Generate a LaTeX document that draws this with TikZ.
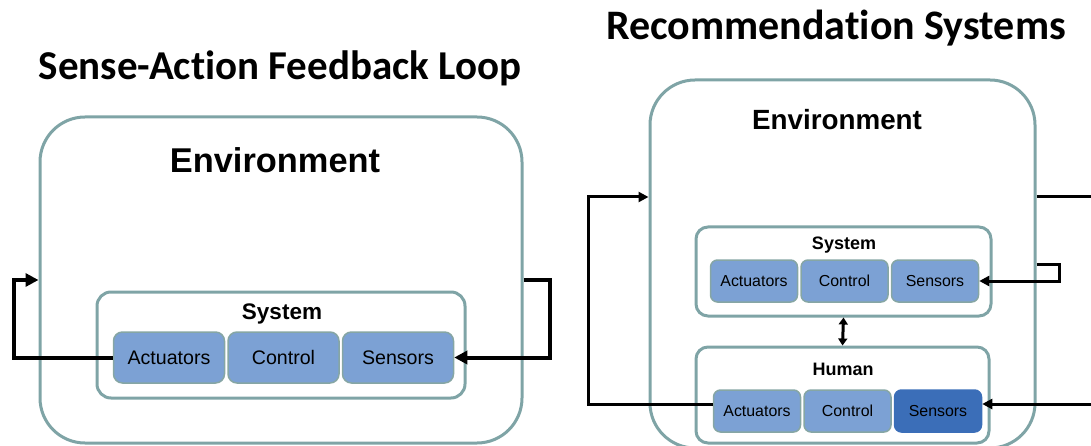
\documentclass[tikz,border=0pt]{standalone}
\usepackage{fontspec}
\setmainfont{Liberation Sans}
\newfontfamily\headfont[Ligatures=NoCommon]{Carlito}
\usepackage{tikz}
\usetikzlibrary{arrows.meta,positioning}
\definecolor{envline}{RGB}{127,164,166}
\definecolor{partfill}{RGB}{124,161,212}
\definecolor{partline}{RGB}{134,166,164}
\definecolor{partdark}{RGB}{59,110,184}
\tikzset{
    %Define standard arrow tip
    >={Triangle[length=13pt,width=13pt]},
    %Define style for boxes
    envbox/.style={
           rectangle,
           rounded corners=45pt,
           draw=envline, line width=3pt,
           inner sep=0pt},
    sysbox/.style={
           rectangle,
           rounded corners=14pt,
           draw=envline, line width=3pt,
           inner sep=0pt},
    partbox/.style={
           rectangle,
           rounded corners=9pt,
           draw=partline, line width=1.5pt,
           fill=partfill,
           inner sep=0pt,
           text centered},
    % Define style for texts
    head/.style={
           inner sep=0pt,
           font=\headfont\bfseries\fontsize{41}{41}\selectfont},
    lbl/.style={
           inner sep=0pt,
           font=\bfseries},
    % Define arrow style
    fb/.style={
           ->,
           line width=4pt},
    fbs/.style={
           -{Triangle[length=10pt,width=10pt]},
           line width=3pt}
}

\begin{document}
\begin{tikzpicture}[x=1pt,y=-1pt]
\clip (0,0) rectangle (1091,446);
\node[head] (t1) at (280,68) {Sense-Action Feedback Loop};
\node[envbox, minimum width=482pt, minimum height=326pt] (env) at (281,280) {};
\node[lbl, font=\bfseries\fontsize{34.4}{34.4}\selectfont] (envl) at (275,160) {Environment};
\node[sysbox, minimum width=368pt, minimum height=106pt] (sys) at (281,345) {};
\node[lbl, font=\bfseries\fontsize{22.5}{22.5}\selectfont] (sysl) at (282,314) {System};
\node[partbox, minimum width=111pt, minimum height=51pt, font=\fontsize{19.6}{19.6}\selectfont] (act) at (169,357.5) {Actuators};
\node[partbox, minimum width=111pt, minimum height=51pt, font=\fontsize{19.6}{19.6}\selectfont, right=2pt of act] (ctl) {Control};
\node[partbox, minimum width=111pt, minimum height=51pt, font=\fontsize{19.6}{19.6}\selectfont, right=2pt of ctl] (sen) {Sensors};
\draw[fb] (act.west) -- ++(-99,0) |- (env.west);
\draw[fb] (env.east) -- ++(26,0) |- (sen.east);

\node[head, font=\headfont\bfseries\fontsize{42}{42}\selectfont] (t2) at (836,28) {Recommendation Systems};
\node[envbox, minimum width=385pt, minimum height=368pt] (env2) at (842.5,264) {};
\node[lbl, font=\bfseries\fontsize{27.8}{27.8}\selectfont] (envl2) at (837,120) {Environment};
\node[sysbox, rounded corners=12pt, minimum width=295pt, minimum height=89pt] (sys2) at (843.5,271.5) {};
\node[lbl, font=\bfseries\fontsize{18}{18}\selectfont] (sysl2) at (844,245) {System};
\node[partbox, rounded corners=7pt, minimum width=87pt, minimum height=42pt, font=\fontsize{15.9}{15.9}\selectfont] (sact) at (754,281) {Actuators};
\node[partbox, rounded corners=7pt, minimum width=87pt, minimum height=42pt, font=\fontsize{15.9}{15.9}\selectfont, right=2pt of sact] (sctl) {Control};
\node[partbox, rounded corners=7pt, minimum width=87pt, minimum height=42pt, font=\fontsize{15.9}{15.9}\selectfont, right=2pt of sctl] (ssen) {Sensors};
\node[sysbox, rounded corners=12pt, minimum width=293pt, minimum height=96pt] (hum) at (842.5,395) {};
\node[lbl, font=\bfseries\fontsize{18}{18}\selectfont] (huml) at (843,369) {Human};
\node[partbox, rounded corners=7pt, minimum width=87pt, minimum height=42pt, font=\fontsize{15.9}{15.9}\selectfont] (hact) at (757,411) {Actuators};
\node[partbox, rounded corners=7pt, minimum width=87pt, minimum height=42pt, font=\fontsize{15.9}{15.9}\selectfont, right=2pt of hact] (hctl) {Control};
\node[partbox, rounded corners=7pt, minimum width=87pt, minimum height=42pt, font=\fontsize{15.9}{15.9}\selectfont, fill=partdark, draw=partdark, right=2pt of hctl] (hsen) {Sensors};
\coordinate (out) at (1091,197);
\coordinate (in) at (1091,404);
\draw[line width=3pt] (env2.east |- out) -- (out);
\draw[fbs] ([yshift=7pt]hact.west) -- ++(-124,0) |- (env2.west |- out);
\draw[fbs] (env2.east) -- ++(23,0) |- (ssen.east);
\draw[fbs] (in) -- ([yshift=7pt]hsen.east);
\draw[line width=3pt, {Triangle[length=7pt,width=9pt]}-{Triangle[length=7pt,width=9pt]}] (sys2.south) -- (hum.north);
\end{tikzpicture}
\end{document}
